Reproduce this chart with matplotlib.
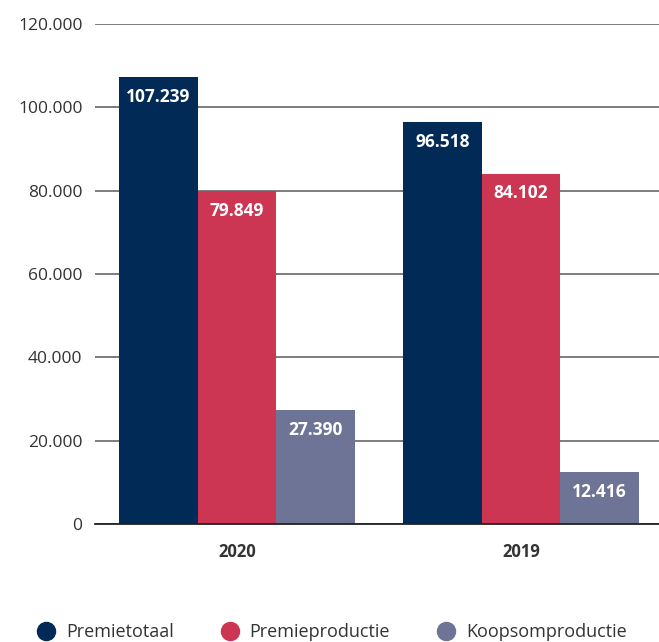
import matplotlib
matplotlib.use("Agg")
import matplotlib.pyplot as plt
from matplotlib.lines import Line2D
import numpy as np

years = ["2020", "2019"]
series = ["Premietotaal", "Premieproductie", "Koopsomproductie"]
values = {
    "Premietotaal": [107239, 96518],
    "Premieproductie": [79849, 84102],
    "Koopsomproductie": [27390, 12416],
}
colors = ["#012a57", "#cc3652", "#6d7495"]
yticks = [0, 20000, 40000, 60000, 80000, 100000, 120000]

def fmt(v):
    return f"{v:,}".replace(",", ".")

plt.rcParams['font.family'] = ['Open Sans', 'DejaVu Sans']
fig = plt.figure(figsize=(6.59, 6.42), dpi=100)
ax = fig.add_axes([95/659, 118/642, 1 - 95/659, 500/642])

x = np.arange(len(years))
w = 0.277
for i, s in enumerate(series):
    xs = x + (i - 1) * w
    ax.bar(xs, values[s], width=w, color=colors[i], zorder=3)
    for xi, v in zip(xs, values[s]):
        ax.text(xi, v - 2600, fmt(v), ha="center", va="top", color="white",
                fontsize=12.5, fontweight="bold", zorder=4)

ax.set_xlim(-0.5, 1.486)
ax.set_ylim(0, 120000)
ax.set_yticks(yticks)
ax.set_yticklabels([fmt(t) for t in yticks], fontsize=12.5, color="#333333")
ax.set_xticks(x)
ax.set_xticklabels(years, fontsize=12, fontweight="bold", color="#333333")
ax.tick_params(axis="y", length=0, pad=9)
ax.tick_params(axis="x", length=0, pad=14)
ax.grid(axis="y", color="#666666", linewidth=1.2, zorder=1)
for sp in ["top", "right", "left"]:
    ax.spines[sp].set_visible(False)
ax.spines["bottom"].set_color("#222222")
ax.spines["bottom"].set_linewidth(1.3)
ax.spines["bottom"].set_zorder(5)

handles = [Line2D([0], [0], marker="o", color="none", markerfacecolor=c,
                  markeredgecolor=c, markersize=13) for c in colors]
leg = fig.legend(handles, series, loc="center left", bbox_to_anchor=(0.04, 10/642),
                 ncol=3, frameon=False, fontsize=13, handletextpad=0.5,
                 columnspacing=2.5, handlelength=1.2, borderpad=0)
for t in leg.get_texts():
    t.set_color("#333333")

fig.savefig("out.png", dpi=100)
